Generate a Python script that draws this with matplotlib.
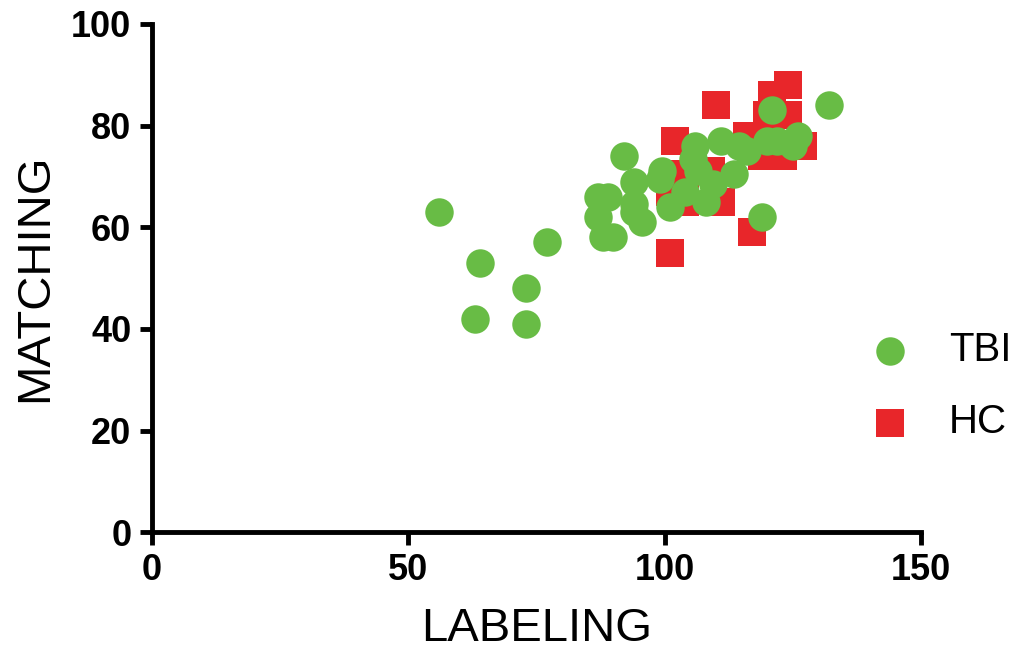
import matplotlib.pyplot as plt

# TBI group (green circles)
tbi_x = [56, 64, 63, 73, 73, 77, 87, 89, 87, 88, 90, 92, 94, 94, 94, 95.5, 99, 99.5,
         101, 104, 106, 105.5, 106.5, 108, 109.5, 111, 113.5, 114.5, 116, 119, 120, 121,
         122, 125, 126, 132]
tbi_y = [63, 53, 42, 48, 41, 57, 66, 66, 62, 58, 58, 74, 69, 64.5, 63, 61, 69.5, 71,
         64, 67, 76, 73.5, 71, 65, 68.5, 77, 70.5, 76, 75, 62, 77, 83,
         77, 76, 78, 84]

# HC group (red squares)
hc_x = [110, 124, 121, 120, 124, 102, 127, 116, 119, 123, 101, 104, 109, 111, 117, 101, 104]
hc_y = [84, 88, 86, 82, 82, 77, 76, 78, 74, 74, 67, 70.5, 71, 65, 59, 55, 65]

green = '#68BC45'
red = '#E8262A'

fig = plt.figure(figsize=(10.21, 6.66), dpi=100)
ax = fig.add_axes([0.149, 0.201, 0.753, 0.763])

ax.scatter(hc_x, hc_y, marker='s', s=380, color=red, linewidths=0, label='HC', zorder=2, clip_on=False)
ax.scatter(tbi_x, tbi_y, marker='o', s=420, color=green, linewidths=0, label='TBI', zorder=3, clip_on=False)

ax.set_xlim(0, 150)
ax.set_ylim(0, 100)
ax.set_xticks([0, 50, 100, 150])
ax.set_yticks([0, 20, 40, 60, 80, 100])

for side in ['top', 'right']:
    ax.spines[side].set_visible(False)
for side in ['left', 'bottom']:
    ax.spines[side].set_linewidth(3.5)

ax.tick_params(width=3.5, length=9, direction='out', pad=6)
for lab in ax.get_xticklabels() + ax.get_yticklabels():
    lab.set_fontfamily('Liberation Sans')
    lab.set_fontweight('bold')
    lab.set_fontsize(26)

ax.set_xlabel('LABELING', fontsize=34, family='Liberation Sans', labelpad=14)
ax.set_ylabel('MATCHING', fontsize=34, family='Liberation Sans', labelpad=10)

h, l = ax.get_legend_handles_labels()
ax.legend(h[::-1], l[::-1], loc='center left', bbox_to_anchor=(0.797, 0.42),
          bbox_transform=fig.transFigure, frameon=False,
          prop={'family': 'Liberation Sans', 'size': 29},
          handletextpad=0.45, labelspacing=0.85, markerscale=1.0)

fig.savefig('out.png', dpi=100)
